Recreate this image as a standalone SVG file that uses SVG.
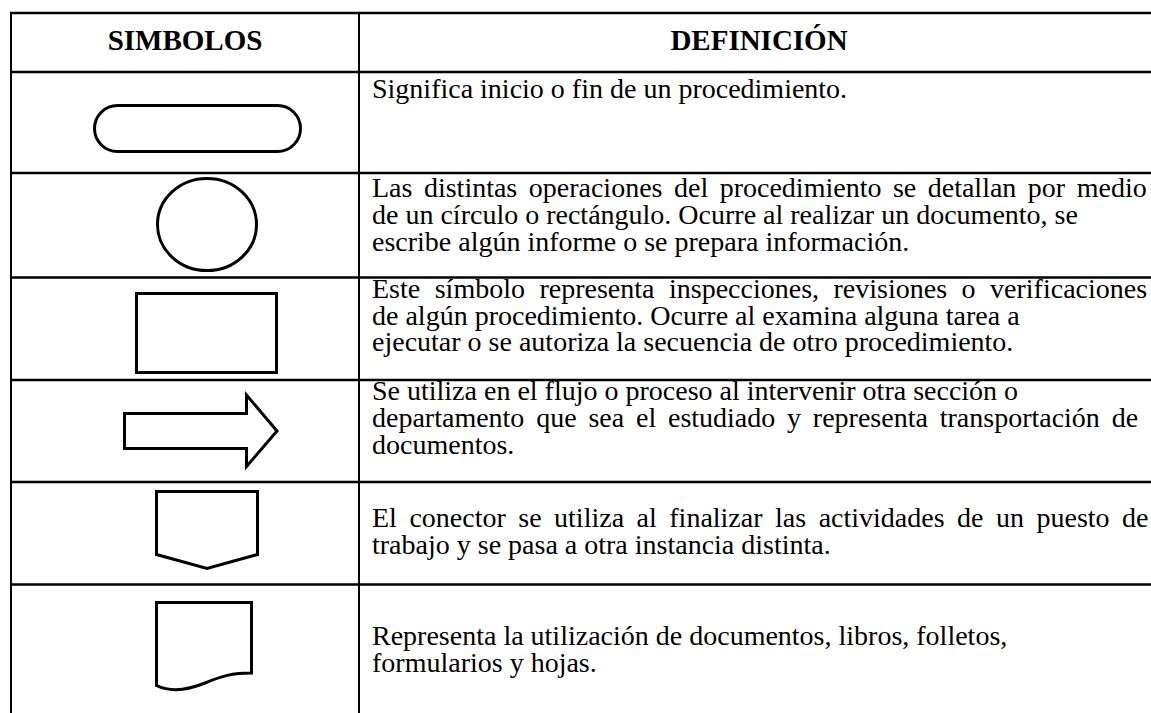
<svg xmlns="http://www.w3.org/2000/svg" width="1151" height="713" viewBox="0 0 1151 713">
<style>
.grid{stroke:#000;stroke-width:2.5;fill:none}
.vgrid{stroke:#000;stroke-width:2;fill:none}
.sym{stroke:#000;stroke-width:3;fill:#fff;stroke-linejoin:miter}
.h{font-family:"Liberation Serif","Times New Roman",serif;font-weight:bold;font-size:29px;fill:#000;text-anchor:middle}
.t{font-family:"Liberation Serif","Times New Roman",serif;font-size:28px;fill:#000}
</style>
<rect width="1151" height="713" fill="#fff"/>
<g id="table">
<line class="grid" x1="10" y1="13" x2="1151" y2="13"/>
<line class="grid" x1="10" y1="72" x2="1151" y2="72"/>
<line class="grid" x1="10" y1="173" x2="1151" y2="173"/>
<line class="grid" x1="10" y1="277.5" x2="1151" y2="277.5"/>
<line class="grid" x1="10" y1="380" x2="1151" y2="380"/>
<line class="grid" x1="10" y1="482" x2="1151" y2="482"/>
<line class="grid" x1="10" y1="584.5" x2="1151" y2="584.5"/>
<line class="vgrid" x1="11" y1="12" x2="11" y2="713"/>
<line class="vgrid" x1="359" y1="12" x2="359" y2="713"/>
</g>
<g id="header">
<text class="h" x="185" y="50">SIMBOLOS</text>
<text class="h" x="759" y="50">DEFINICIÓN</text>
</g>
<g id="row-terminal">
<rect class="sym" x="94.5" y="105.5" width="206" height="46" rx="23" ry="23"/>
<text class="t" x="372" y="98">Significa inicio o fin de un procedimiento.</text>
</g>
<g id="row-operation">
<ellipse class="sym" cx="207" cy="224.5" rx="49.5" ry="46"/>
<text class="t" x="372" y="197" word-spacing="4.5">Las distintas operaciones del procedimiento se detallan por medio</text>
<text class="t" x="372" y="224">de un círculo o rectángulo. Ocurre al realizar un documento, se</text>
<text class="t" x="372" y="251">escribe algún informe o se prepara información.</text>
</g>
<g id="row-inspection">
<rect class="sym" x="136.5" y="293.5" width="140" height="79"/>
<text class="t" x="372" y="298" word-spacing="7.5">Este símbolo representa inspecciones, revisiones o verificaciones</text>
<text class="t" x="372" y="324.5">de algún procedimiento. Ocurre al examina alguna tarea a</text>
<text class="t" x="372" y="351">ejecutar o se autoriza la secuencia de otro procedimiento.</text>
</g>
<g id="row-transport">
<path class="sym" d="M124.5,413.5 H246.5 V395 L277,431 L246.5,466.5 V448.5 H124.5 Z"/>
<text class="t" x="372" y="400">Se utiliza en el flujo o proceso al intervenir otra sección o</text>
<text class="t" x="372" y="427" word-spacing="4.8">departamento que sea el estudiado y representa transportación de</text>
<text class="t" x="372" y="454">documentos.</text>
</g>
<g id="row-connector">
<path class="sym" d="M156.5,491.5 H257.5 V554.5 L207,568.5 L156.5,554.5 Z"/>
<text class="t" x="372" y="527" word-spacing="5.5">El conector se utiliza al finalizar las actividades de un puesto de</text>
<text class="t" x="372" y="554">trabajo y se pasa a otra instancia distinta.</text>
</g>
<g id="row-document">
<path class="sym" d="M156.5,602.5 H251.5 V673 C232,673 222,676 205,683 C188,690 170,692 156.5,685.5 Z"/>
<text class="t" x="372" y="645">Representa la utilización de documentos, libros, folletos,</text>
<text class="t" x="372" y="672">formularios y hojas.</text>
</g>
</svg>
